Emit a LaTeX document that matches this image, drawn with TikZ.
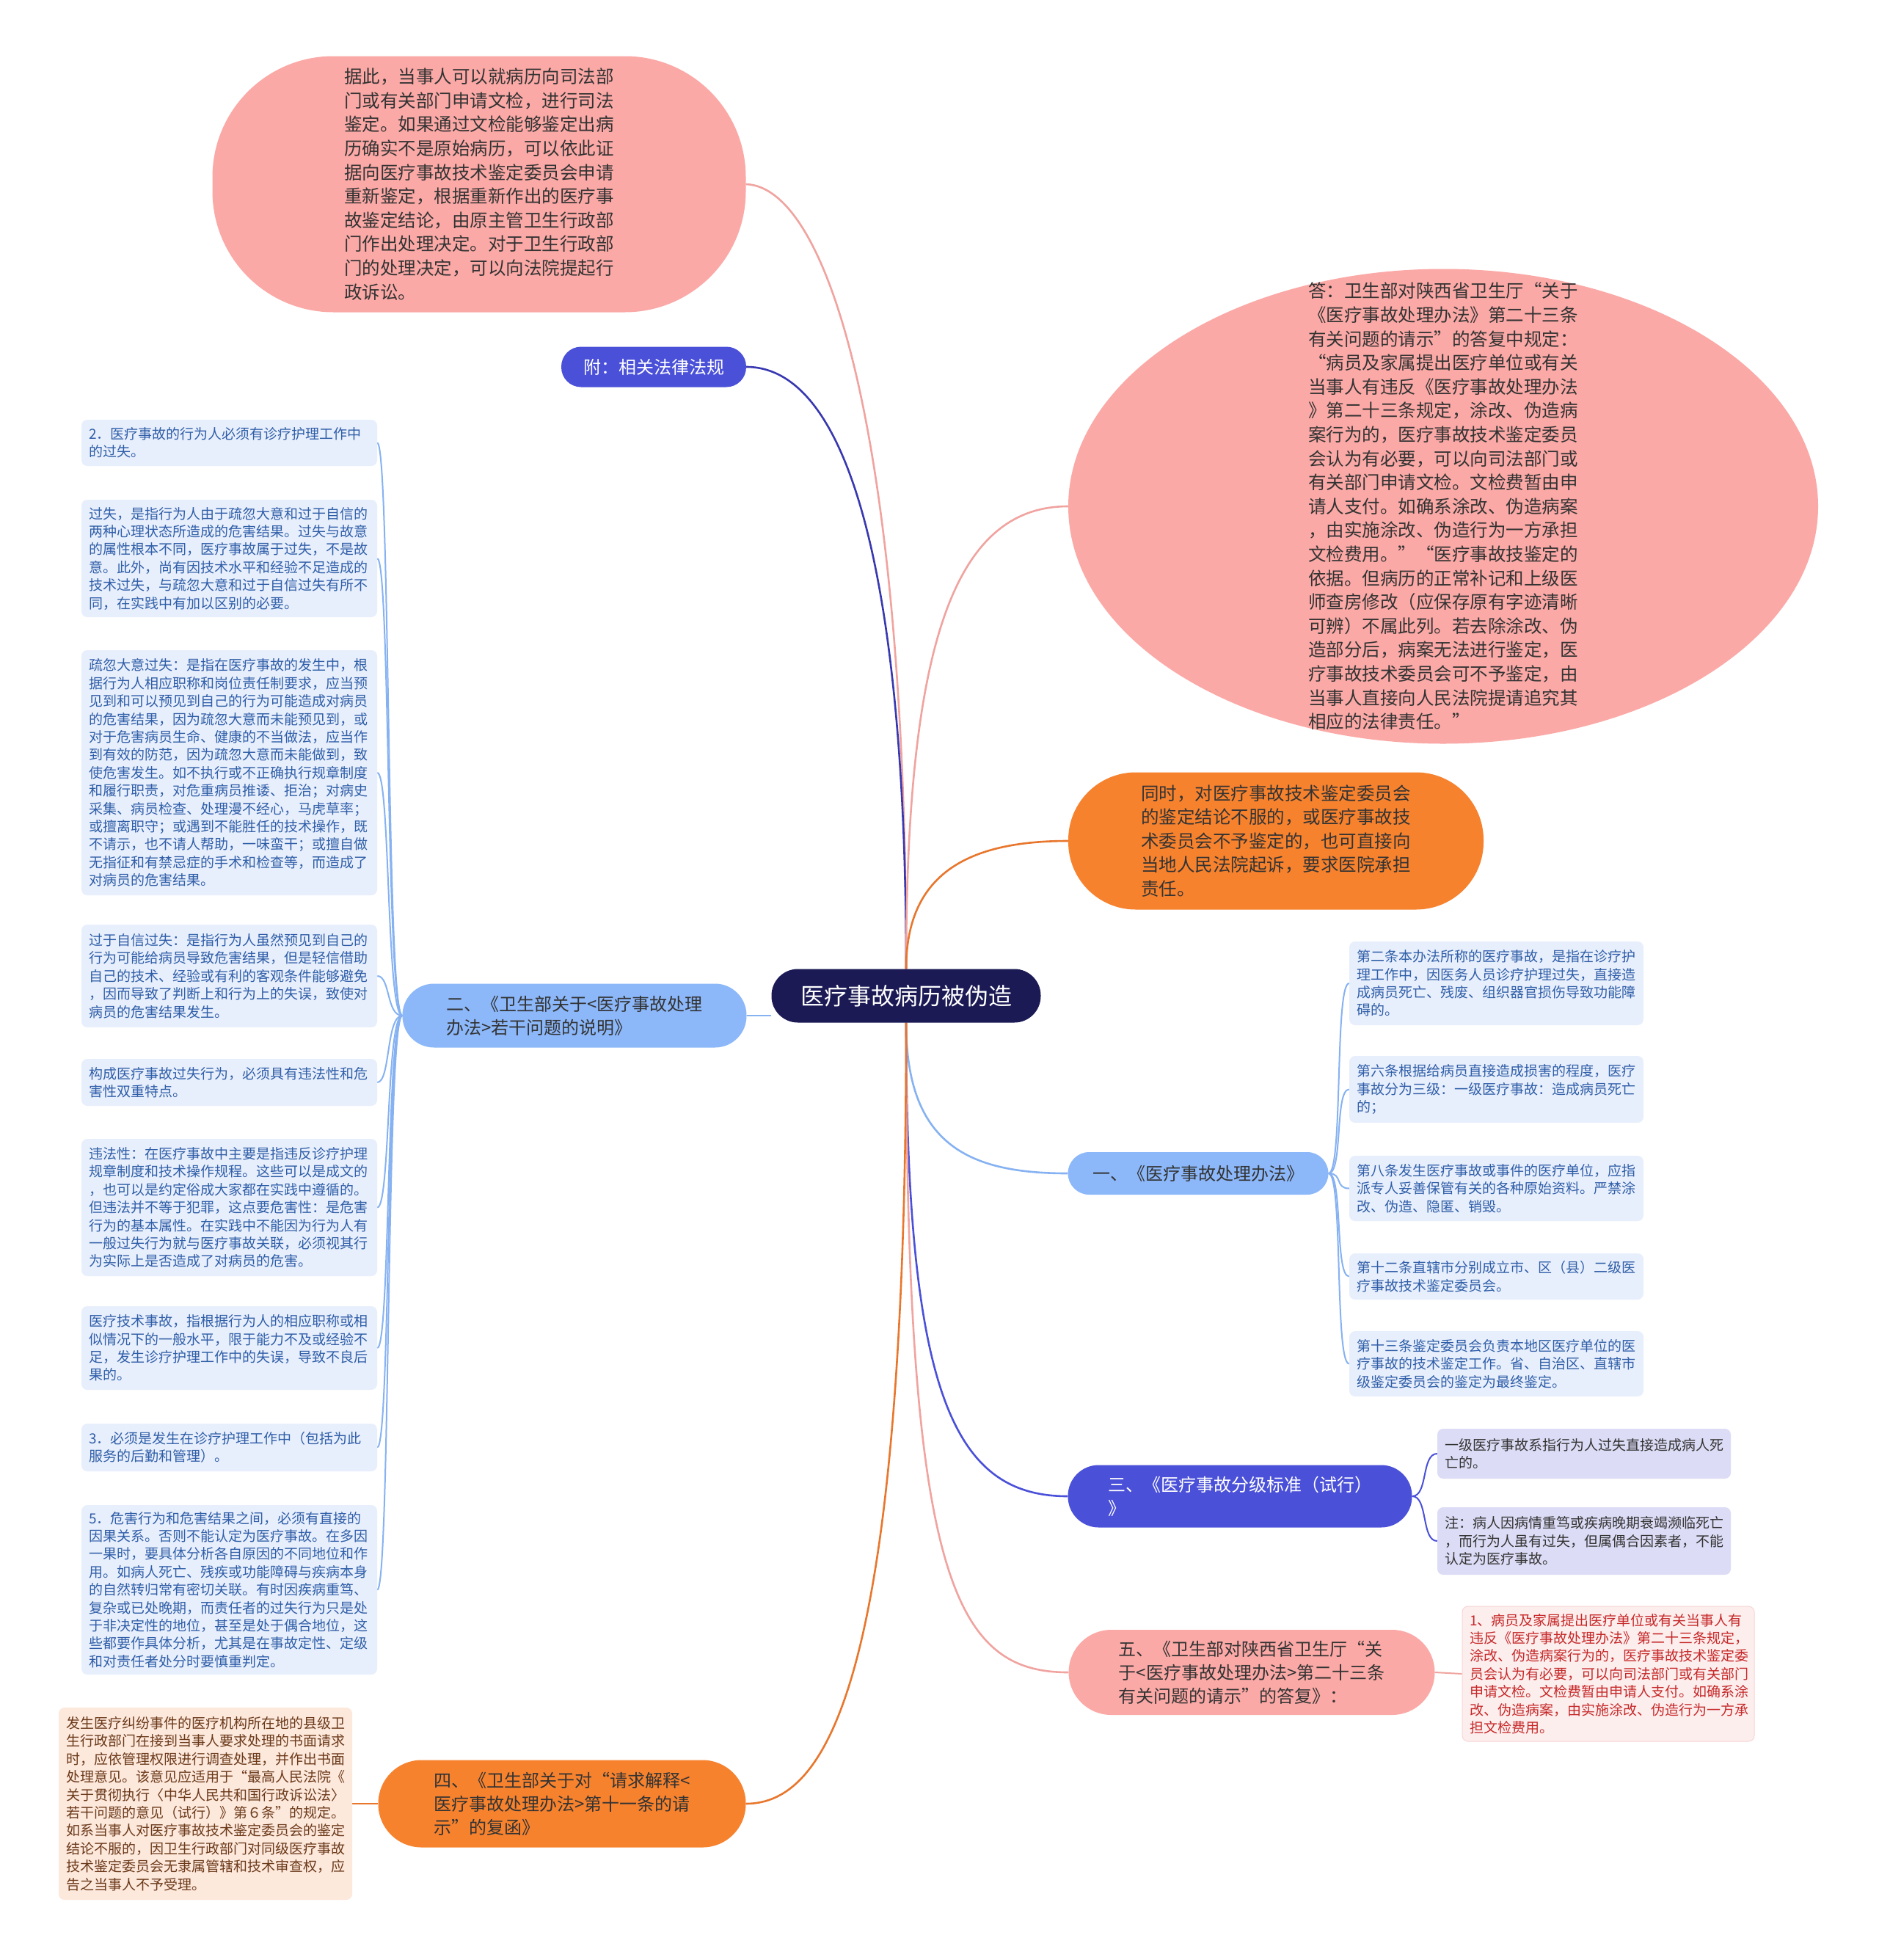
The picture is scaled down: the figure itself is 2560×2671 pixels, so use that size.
\documentclass[tikz,border=0pt]{standalone}
\usepackage{fontspec}
\setmainfont{Noto Sans CJK SC}
\usetikzlibrary{backgrounds}
\definecolor{pinkF}{HTML}{FBA9A6}
\definecolor{orangeF}{HTML}{F7822E}
\definecolor{lblueF}{HTML}{8CB8FA}
\definecolor{purpF}{HTML}{4A50D8}
\definecolor{navyF}{HTML}{1B1A55}
\definecolor{lbFill}{HTML}{E8EFFC}
\definecolor{lbText}{HTML}{2F5EA8}
\definecolor{lavF}{HTML}{DCDCF6}
\definecolor{redFill}{HTML}{FDEEEE}
\definecolor{redBorder}{HTML}{F8D4D4}
\definecolor{redText}{HTML}{C62828}
\definecolor{peachF}{HTML}{FDE8DC}
\definecolor{brownT}{HTML}{6B3A1A}
\definecolor{txtDark}{HTML}{333333}
\definecolor{pinkL}{HTML}{F0A39F}
\definecolor{darkBlueL}{HTML}{3838B0}
\definecolor{purpL}{HTML}{4A50D8}
\definecolor{lbL}{HTML}{86B2F2}
\definecolor{orangeL}{HTML}{E8762C}
\begin{document}
\begin{tikzpicture}[x=1pt,y=-1pt,
  lvl/.style={inner sep=0pt, align=left, text=txtDark, font=\fontsize{24pt}{32pt}\selectfont},
  bigtxt/.style={inner sep=0pt, align=left, text=txtDark, font=\fontsize{24.5pt}{32.6pt}\selectfont},
  sbox/.style={rounded corners=8pt, inner xsep=10pt, inner ysep=0pt, align=left, font=\fontsize{19pt}{24.4pt}\selectfont},
  lbox/.style={sbox, fill=lbFill, text=lbText, text width=383pt},
  rbox/.style={sbox, fill=lbFill, text=lbText, text width=381pt},
  vbox/.style={sbox, fill=lavF, text=txtDark, text width=380pt},
  con/.style={line width=2.6pt},
  subcon/.style={line width=2pt}
]
\useasboundingbox (0,0) rectangle (2560,2671);

% ---- central node
\node[fill=navyF, text=white, rounded corners=36pt, minimum width=367pt, minimum height=73pt, inner sep=0pt, font=\fontsize{32pt}{38pt}\selectfont] (c) at (1235,1357) {医疗事故病历被伪造};

% ---- top-left pink
\node[bigtxt, fill=pinkF, rounded corners=165pt, minimum width=727pt, minimum height=349pt] (tl) at (653,251) {据此，当事人可以就病历向司法部\\门或有关部门申请文检，进行司法\\鉴定。如果通过文检能够鉴定出病\\历确实不是原始病历，可以依此证\\据向医疗事故技术鉴定委员会申请\\重新鉴定，根据重新作出的医疗事\\故鉴定结论，由原主管卫生行政部\\门作出处理决定。对于卫生行政部\\门的处理决定，可以向法院提起行\\政诉讼。};

% ---- 附
\node[lvl, fill=purpF, text=white, rounded corners=27pt, minimum width=252pt, minimum height=55pt] (fu) at (891,500) {附：相关法律法规};

% ---- right ellipse (text node; ellipse drawn on background)
\node[bigtxt, minimum width=1022pt, minimum height=647pt] (el) at (1967,690) {答：卫生部对陕西省卫生厅“关于\\《医疗事故处理办法》第二十三条\\有关问题的请示”的答复中规定：\\“病员及家属提出医疗单位或有关\\当事人有违反《医疗事故处理办法\\》第二十三条规定，涂改、伪造病\\案行为的，医疗事故技术鉴定委员\\会认为有必要，可以向司法部门或\\有关部门申请文检。文检费暂由申\\请人支付。如确系涂改、伪造病案\\，由实施涂改、伪造行为一方承担\\文检费用。”“医疗事故技鉴定的\\依据。但病历的正常补记和上级医\\师查房修改（应保存原有字迹清晰\\可辨）不属此列。若去除涂改、伪\\造部分后，病案无法进行鉴定，医\\疗事故技术委员会可不予鉴定，由\\当事人直接向人民法院提请追究其\\相应的法律责任。”};

% ---- orange
\node[bigtxt, fill=orangeF, rounded corners=92pt, minimum width=566pt, minimum height=187pt] (or) at (1739,1146) {同时，对医疗事故技术鉴定委员会\\的鉴定结论不服的，或医疗事故技\\术委员会不予鉴定的，也可直接向\\当地人民法院起诉，要求医院承担\\责任。};

% ---- 一
\node[lvl, fill=lblueF, rounded corners=29pt, minimum width=355pt, minimum height=58pt] (n1) at (1633,1599) {一、《医疗事故处理办法》};
\node[rbox, minimum height=114pt] (ra) at (2039.5,1340) {第二条本办法所称的医疗事故，是指在诊疗护\\理工作中，因医务人员诊疗护理过失，直接造\\成病员死亡、残废、组织器官损伤导致功能障\\碍的。};
\node[rbox, minimum height=91pt] (rb) at (2039.5,1484.5) {第六条根据给病员直接造成损害的程度，医疗\\事故分为三级：一级医疗事故：造成病员死亡\\的；};
\node[rbox, minimum height=89pt] (rc) at (2039.5,1619.5) {第八条发生医疗事故或事件的医疗单位，应指\\派专人妥善保管有关的各种原始资料。严禁涂\\改、伪造、隐匿、销毁。};
\node[rbox, minimum height=63pt] (rd) at (2039.5,1739.5) {第十二条直辖市分别成立市、区（县）二级医\\疗事故技术鉴定委员会。};
\node[rbox, minimum height=89pt] (re) at (2039.5,1858.5) {第十三条鉴定委员会负责本地区医疗单位的医\\疗事故的技术鉴定工作。省、自治区、直辖市\\级鉴定委员会的鉴定为最终鉴定。};

% ---- 三
\node[lvl, fill=purpF, text=white, rounded corners=42pt, minimum width=469pt, minimum height=85pt] (n3) at (1690,2039) {三、《医疗事故分级标准（试行）\\》};
\node[vbox, minimum height=68pt] (sa) at (2159,1981) {一级医疗事故系指行为人过失直接造成病人死\\亡的。};
\node[vbox, minimum height=92pt] (sb) at (2159,2100) {注：病人因病情重笃或疾病晚期衰竭濒临死亡\\，而行为人虽有过失，但属偶合因素者，不能\\认定为医疗事故。};

% ---- 五
\node[lvl, fill=pinkF, rounded corners=58pt, minimum width=499pt, minimum height=116pt] (n5) at (1706,2279) {五、《卫生部对陕西省卫生厅“关\\于<医疗事故处理办法>第二十三条\\有关问题的请示”的答复》：};
\node[sbox, fill=redFill, draw=redBorder, line width=1pt, text=redText, text width=378pt, minimum height=184pt] (rr) at (2192,2281) {1、病员及家属提出医疗单位或有关当事人有\\违反《医疗事故处理办法》第二十三条规定，\\涂改、伪造病案行为的，医疗事故技术鉴定委\\员会认为有必要，可以向司法部门或有关部门\\申请文检。文检费暂由申请人支付。如确系涂\\改、伪造病案，由实施涂改、伪造行为一方承\\担文检费用。};

% ---- 二
\node[lvl, fill=lblueF, rounded corners=43pt, minimum width=469pt, minimum height=87pt] (n2) at (783,1384) {二、《卫生部关于<医疗事故处理\\办法>若干问题的说明》};
\node[lbox, minimum height=63pt] (la) at (312.5,603.5) {2．医疗事故的行为人必须有诊疗护理工作中\\的过失。};
\node[lbox, minimum height=160pt] (lb) at (312.5,761) {过失，是指行为人由于疏忽大意和过于自信的\\两种心理状态所造成的危害结果。过失与故意\\的属性根本不同，医疗事故属于过失，不是故\\意。此外，尚有因技术水平和经验不足造成的\\技术过失，与疏忽大意和过于自信过失有所不\\同，在实践中有加以区别的必要。};
\node[lbox, minimum height=334pt] (lc) at (312.5,1053) {疏忽大意过失：是指在医疗事故的发生中，根\\据行为人相应职称和岗位责任制要求，应当预\\见到和可以预见到自己的行为可能造成对病员\\的危害结果，因为疏忽大意而未能预见到，或\\对于危害病员生命、健康的不当做法，应当作\\到有效的防范，因为疏忽大意而未能做到，致\\使危害发生。如不执行或不正确执行规章制度\\和履行职责，对危重病员推诿、拒治；对病史\\采集、病员检查、处理漫不经心，马虎草率；\\或擅离职守；或遇到不能胜任的技术操作，既\\不请示，也不请人帮助，一味蛮干；或擅自做\\无指征和有禁忌症的手术和检查等，而造成了\\对病员的危害结果。};
\node[lbox, minimum height=140pt] (ld) at (312.5,1330) {过于自信过失：是指行为人虽然预见到自己的\\行为可能给病员导致危害结果，但是轻信借助\\自己的技术、经验或有利的客观条件能够避免\\，因而导致了判断上和行为上的失误，致使对\\病员的危害结果发生。};
\node[lbox, minimum height=64pt] (le) at (312.5,1475) {构成医疗事故过失行为，必须具有违法性和危\\害性双重特点。};
\node[lbox, minimum height=187pt] (lf) at (312.5,1645.5) {违法性：在医疗事故中主要是指违反诊疗护理\\规章制度和技术操作规程。这些可以是成文的\\，也可以是约定俗成大家都在实践中遵循的。\\但违法并不等于犯罪，这点要危害性：是危害\\行为的基本属性。在实践中不能因为行为人有\\一般过失行为就与医疗事故关联，必须视其行\\为实际上是否造成了对病员的危害。};
\node[lbox, minimum height=114pt] (lg) at (312.5,1837) {医疗技术事故，指根据行为人的相应职称或相\\似情况下的一般水平，限于能力不及或经验不\\足，发生诊疗护理工作中的失误，导致不良后\\果的。};
\node[lbox, minimum height=65pt] (lh) at (312.5,1972.5) {3．必须是发生在诊疗护理工作中（包括为此\\服务的后勤和管理）。};
\node[lbox, minimum height=231pt] (li) at (312.5,2166.5) {5．危害行为和危害结果之间，必须有直接的\\因果关系。否则不能认定为医疗事故。在多因\\一果时，要具体分析各自原因的不同地位和作\\用。如病人死亡、残疾或功能障碍与疾病本身\\的自然转归常有密切关联。有时因疾病重笃、\\复杂或已处晚期，而责任者的过失行为只是处\\于非决定性的地位，甚至是处于偶合地位，这\\些都要作具体分析，尤其是在事故定性、定级\\和对责任者处分时要慎重判定。};

% ---- 四
\node[lvl, fill=orangeF, rounded corners=59pt, minimum width=501pt, minimum height=119pt] (n4) at (766,2458) {四、《卫生部关于对“请求解释<\\医疗事故处理办法>第十一条的请\\示”的复函》};
\node[sbox, fill=peachF, text=brownT, text width=380pt, minimum height=262pt] (bl) at (280,2458) {发生医疗纠纷事件的医疗机构所在地的县级卫\\生行政部门在接到当事人要求处理的书面请求\\时，应依管理权限进行调查处理，并作出书面\\处理意见。该意见应适用于“最高人民法院《\\关于贯彻执行〈中华人民共和国行政诉讼法〉\\若干问题的意见（试行）》第６条”的规定。\\如系当事人对医疗事故技术鉴定委员会的鉴定\\结论不服的，因卫生行政部门对同级医疗事故\\技术鉴定委员会无隶属管辖和技术审查权，应\\告之当事人不予受理。};

% ---- background: white, ellipse, connectors
\begin{scope}[on background layer]
\fill[white] (0,0) rectangle (2560,2671);
\fill[pinkF] (el.center) ellipse [x radius=511pt, y radius=323.5pt];
% main connectors
\draw[con, pinkL] (c.north) .. controls (1235,600) and (1130,255) .. (tl.east);
\draw[con, darkBlueL] (c.north) .. controls (1235,800) and (1160,500) .. (fu.east);
\draw[con, pinkL] (c.north) .. controls (1235,880) and (1300,690) .. (el.west);
\draw[con, orangeL] (c.north) .. controls (1235,1190) and (1320,1146) .. (or.west);
\draw[con, lbL] (c.south) .. controls (1235,1560) and (1320,1599) .. (n1.west);
\draw[con, purpL] (c.south) .. controls (1235,1900) and (1300,2039) .. (n3.west);
\draw[con, pinkL] (c.south) .. controls (1235,2150) and (1300,2279) .. (n5.west);
\draw[con, orangeL] (c.south) .. controls (1235,2280) and (1130,2458) .. (n4.east);
\draw[con, lbL] (n2.east) -- (n2.east -| c.west);
% sub connectors
\foreach \k in {ra,rb,rc,rd,re}
  \draw[subcon, lbL] (n1.east) .. controls +(20,0) and +(-20,0) .. (\k.west);
\foreach \k in {sa,sb}
  \draw[subcon, purpL] (n3.east) .. controls +(22,0) and +(-22,0) .. (\k.west);
\foreach \k in {la,lb,lc,ld,le,lf,lg,lh,li}
  \draw[subcon, lbL] (n2.west) .. controls +(-22,0) and +(18,0) .. (\k.east);
\draw[subcon, pinkL] (n5.east) -- (rr.west);
\draw[subcon, orangeL] (n4.west) -- (bl.east);
\end{scope}
\end{tikzpicture}
\end{document}
